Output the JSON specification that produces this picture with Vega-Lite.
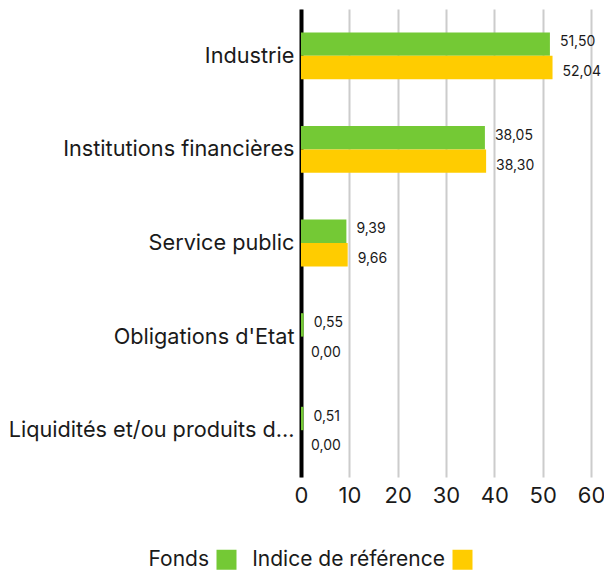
{
  "$schema": "https://vega.github.io/schema/vega-lite/v6.json",
  "width": 290,
  "height": 468,
  "padding": {"left": 8, "top": 9, "right": 10, "bottom": 5},
  "config": {
    "view": {"stroke": null},
    "font": "Inter",
    "locale": {"number": {"decimal": ",", "thousands": " ", "grouping": [3], "currency": ["", " €"]}}
  },
  "data": {
    "values": [
      {"secteur": "Industrie", "serie": "Fonds", "valeur": 51.50},
      {"secteur": "Industrie", "serie": "Indice de référence", "valeur": 52.04},
      {"secteur": "Institutions financières", "serie": "Fonds", "valeur": 38.05},
      {"secteur": "Institutions financières", "serie": "Indice de référence", "valeur": 38.30},
      {"secteur": "Service public", "serie": "Fonds", "valeur": 9.39},
      {"secteur": "Service public", "serie": "Indice de référence", "valeur": 9.66},
      {"secteur": "Obligations d'Etat", "serie": "Fonds", "valeur": 0.55},
      {"secteur": "Obligations d'Etat", "serie": "Indice de référence", "valeur": 0.00},
      {"secteur": "Liquidités et/ou produits d...", "serie": "Fonds", "valeur": 0.51},
      {"secteur": "Liquidités et/ou produits d...", "serie": "Indice de référence", "valeur": 0.00}
    ]
  },
  "encoding": {
    "y": {
      "field": "secteur",
      "type": "nominal",
      "sort": null,
      "title": null,
      "scale": {"paddingInner": 0.5, "paddingOuter": 0.25},
      "axis": {
        "domainColor": "#000000",
        "domainWidth": 4,
        "ticks": false,
        "labelFontSize": 21.7,
        "labelColor": "#1a1a1a",
        "labelPadding": 7,
        "labelLimit": 400,
        "grid": false
      }
    },
    "yOffset": {"field": "serie", "type": "nominal", "sort": ["Fonds", "Indice de référence"]},
    "x": {
      "field": "valeur",
      "type": "quantitative",
      "title": null,
      "scale": {"domain": [0, 60]},
      "axis": {
        "values": [0, 10, 20, 30, 40, 50, 60],
        "domain": false,
        "ticks": false,
        "grid": true,
        "gridColor": "#cccccc",
        "gridWidth": 2,
        "labelFontSize": 22,
        "labelColor": "#1a1a1a",
        "labelPadding": 8,
        "labelFlush": false
      }
    }
  },
  "layer": [
    {
      "mark": {"type": "bar"},
      "encoding": {
        "color": {
          "field": "serie",
          "type": "nominal",
          "sort": ["Fonds", "Indice de référence"],
          "scale": {"domain": ["Fonds", "Indice de référence"], "range": ["#74c935", "#ffcc00"]},
          "legend": {
            "orient": "none",
            "legendX": -85,
            "legendY": 540,
            "direction": "horizontal",
            "title": null,
            "symbolType": "square",
            "symbolSize": 400,
            "symbolStrokeWidth": 0,
            "labelFontSize": 21,
            "labelColor": "#1a1a1a",
            "labelLimit": 400,
            "labelAlign": "right",
            "labelOffset": -28,
            "columnPadding": 15
          }
        }
      }
    },
    {
      "transform": [{"filter": "datum.serie === 'Fonds'"}],
      "mark": {"type": "text", "align": "left", "baseline": "middle", "dx": 10, "dy": -2, "fontSize": 14, "color": "#1a1a1a"},
      "encoding": {"text": {"field": "valeur", "type": "quantitative", "format": ".2f"}}
    },
    {
      "transform": [{"filter": "datum.serie !== 'Fonds'"}],
      "mark": {"type": "text", "align": "left", "baseline": "middle", "dx": 10, "dy": 4.5, "fontSize": 14, "color": "#1a1a1a"},
      "encoding": {"text": {"field": "valeur", "type": "quantitative", "format": ".2f"}}
    }
  ]
}
